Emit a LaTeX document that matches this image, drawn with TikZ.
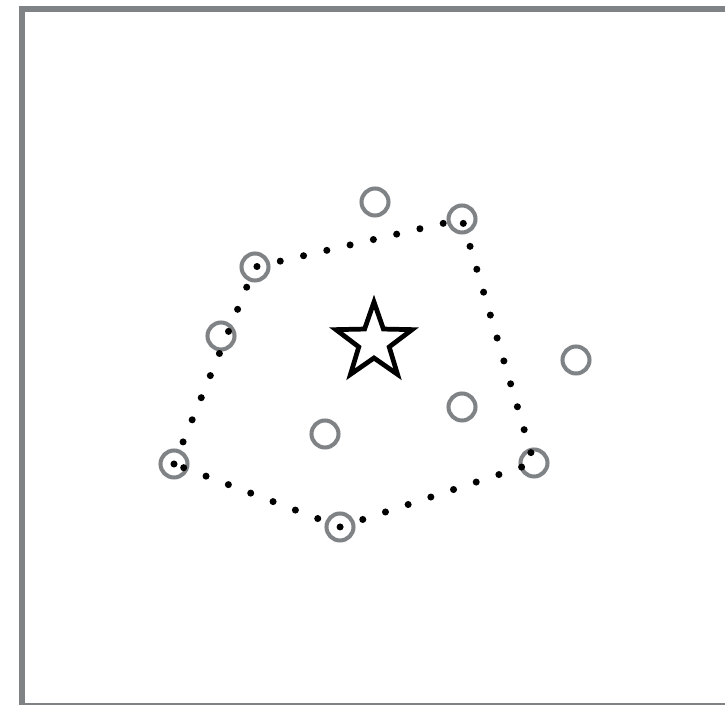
\documentclass[tikz,border=0pt]{standalone}
\usepackage{tikz}
\usepackage{xcolor}
\usetikzlibrary{shapes.geometric}
\definecolor{FrameCol}{RGB}{128,131,134}
\definecolor{PtCol}{RGB}{128,131,134}
\definecolor{InkCol}{RGB}{0,0,0}
\tikzset{
  hlframe/.style={line width=3.4pt, draw=FrameCol},
  hlbase/.style={line width=1.1pt, draw=FrameCol},
  hlpt/.style={circle, draw=PtCol, line width=2.3pt, minimum size=0.54cm, inner sep=0pt},
  hlhull/.style={line width=4pt, draw=InkCol, line cap=round, dash pattern=on 0pt off 13.6pt},
  hlstar/.style={star, star points=5, star point ratio=2.5, draw=InkCol, line width=2.7pt,
    minimum size=1.6cm, inner sep=0pt}
}
\begin{document}
\begin{tikzpicture}[x=0.02cm,y=-0.02cm]
  \useasboundingbox (0,0) rectangle (725,705);
  % frame
  \draw[hlframe] (22,705) -- (22,8.7) -- (725,8.7);
  \draw[hlbase] (19,704) -- (725,704);
  % points
  \node[hlpt] (p1) at (375,202) {};
  \node[hlpt] (p2) at (462,219) {};
  \node[hlpt] (p3) at (255,267) {};
  \node[hlpt] (p4) at (221,336) {};
  \node[hlpt] (p5) at (576,360) {};
  \node[hlpt] (p6) at (462,407) {};
  \node[hlpt] (p7) at (325,434) {};
  \node[hlpt] (p8) at (174,464) {};
  \node[hlpt] (p9) at (534,463) {};
  \node[hlpt] (p10) at (340,527) {};
  % hull
  \draw[hlhull] (p8.center) -- (p3.center) -- (p2.center) -- (p9.center)
    -- (p10.center) -- cycle;
  % centre
  \node[hlstar] (mid) at (374,342) {};
\end{tikzpicture}
\end{document}
